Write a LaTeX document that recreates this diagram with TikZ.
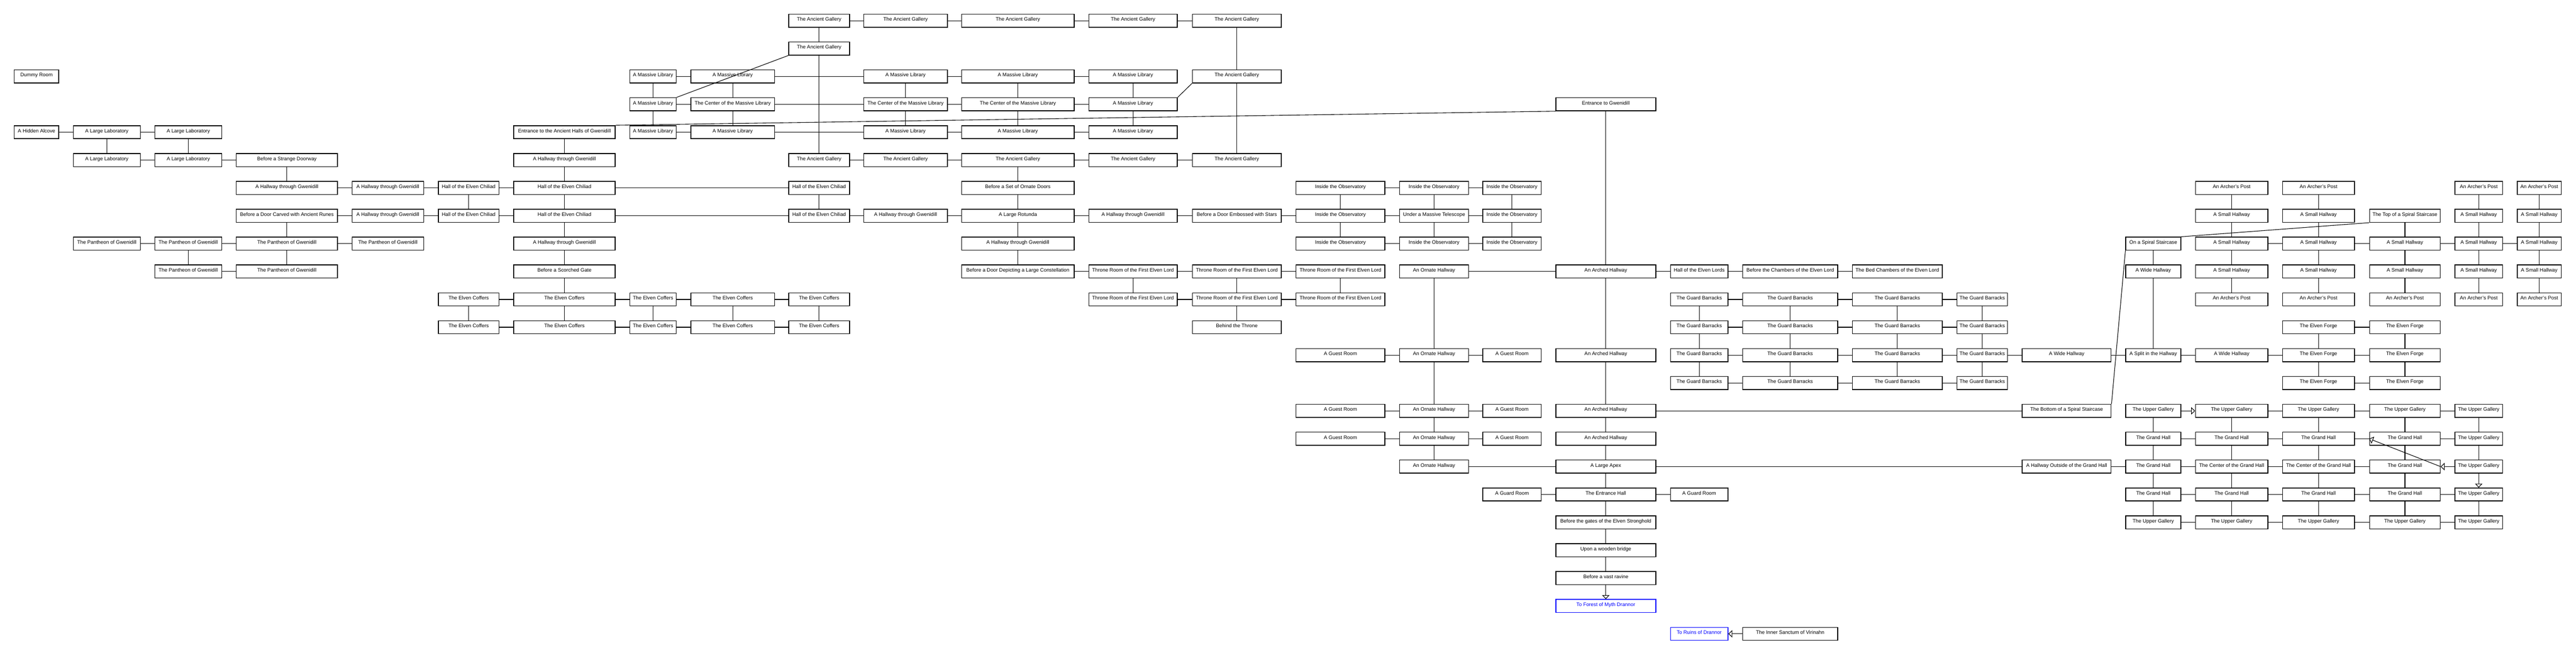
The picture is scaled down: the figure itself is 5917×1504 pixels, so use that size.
\documentclass[tikz,border=0pt]{standalone}
\usepackage{fontspec}
\setmainfont{Liberation Sans}
\usetikzlibrary{arrows.meta}
\def\defcol#1#2#3{\expandafter\def\csname colL#1\endcsname{#2}\expandafter\def\csname colR#1\endcsname{#3}}
\defcol{A}{32}{136}
\defcol{B}{168}{323}
\defcol{C}{355}{510}
\defcol{D}{542}{776}
\defcol{E}{808}{974}
\defcol{F}{1006}{1147}
\defcol{G}{1179}{1414}
\defcol{H}{1446}{1554}
\defcol{I}{1586}{1780}
\defcol{J}{1811}{1952}
\defcol{K}{1983}{2177}
\defcol{L}{2208}{2468}
\defcol{M}{2500}{2705}
\defcol{N}{2738}{2944}
\defcol{O}{2976}{3182}
\defcol{P}{3214}{3374}
\defcol{Q}{3405}{3541}
\defcol{R}{3573}{3804}
\defcol{S}{3836}{3970}
\defcol{T}{4002}{4222}
\defcol{U}{4254}{4462}
\defcol{V}{4494}{4612}
\defcol{W}{4644}{4850}
\defcol{X}{4882}{5010}
\defcol{Y}{5042}{5210}
\defcol{Z}{5242}{5409}
\defcol{AA}{5442}{5606}
\defcol{AB}{5638}{5749}
\defcol{AC}{5781}{5884}
\newcommand\Room[4][]{%
  \pgfmathsetmacro\RoomX{(\csname colL#2\endcsname+\csname colR#2\endcsname)/2}%
  \pgfmathsetmacro\RoomW{(\csname colR#2\endcsname-\csname colL#2\endcsname-1.7)*0.5}%
  \pgfmathsetmacro\RoomY{47.5+64*#3}%
  \node[roombox,minimum width=\RoomW pt,#1] (#2#3) at (\RoomX,\RoomY) {#4};}
\tikzset{
  roombox/.style={draw, line width=0.85pt, minimum height=15pt, inner xsep=0pt, inner ysep=0pt,
    text height=5pt, text depth=4.2pt, font=\fontsize{5.8pt}{7pt}\selectfont},
  portal/.style={draw=blue, text=blue},
  ln/.style={line width=0.65pt},
  arr/.style={line width=0.65pt, -{Triangle[length=4.5pt,width=8.5pt,fill=white]}}
}
\begin{document}
\begin{tikzpicture}[x=0.5pt,y=-0.5pt]
\fill[white] (0,0) rectangle (5917,1504);
\useasboundingbox (0,0) rectangle (5917,1504);
% left block
\Room{A}{2}{Dummy Room}
\Room{A}{4}{A Hidden Alcove}
\Room{B}{4}{A Large Laboratory}
\Room{C}{4}{A Large Laboratory}
\Room{B}{5}{A Large Laboratory}
\Room{C}{5}{A Large Laboratory}
\Room{D}{5}{Before a Strange Doorway}
\Room{D}{6}{A Hallway through Gwenidill}
\Room{E}{6}{A Hallway through Gwenidill}
\Room{D}{7}{Before a Door Carved with Ancient Runes}
\Room{E}{7}{A Hallway through Gwenidill}
\Room{B}{8}{The Pantheon of Gwenidill}
\Room{C}{8}{The Pantheon of Gwenidill}
\Room{D}{8}{The Pantheon of Gwenidill}
\Room{E}{8}{The Pantheon of Gwenidill}
\Room{C}{9}{The Pantheon of Gwenidill}
\Room{D}{9}{The Pantheon of Gwenidill}
\Room{F}{6}{Hall of the Elven Chiliad}
\Room{F}{7}{Hall of the Elven Chiliad}
\Room{G}{4}{Entrance to the Ancient Halls of Gwenidill}
\Room{G}{5}{A Hallway through Gwenidill}
\Room{G}{6}{Hall of the Elven Chiliad}
\Room{G}{7}{Hall of the Elven Chiliad}
\Room{G}{8}{A Hallway through Gwenidill}
\Room{G}{9}{Before a Scorched Gate}
\Room{F}{10}{The Elven Coffers}
\Room{F}{11}{The Elven Coffers}
\Room{G}{10}{The Elven Coffers}
\Room{G}{11}{The Elven Coffers}
\Room{H}{10}{The Elven Coffers}
\Room{H}{11}{The Elven Coffers}
\Room{I}{10}{The Elven Coffers}
\Room{I}{11}{The Elven Coffers}
\Room{J}{10}{The Elven Coffers}
\Room{J}{11}{The Elven Coffers}
% library / gallery
\Room{H}{2}{A Massive Library}
\Room{H}{3}{A Massive Library}
\Room{H}{4}{A Massive Library}
\Room{I}{2}{A Massive Library}
\Room{I}{3}{The Center of the Massive Library}
\Room{I}{4}{A Massive Library}
\Room{J}{0}{The Ancient Gallery}
\Room{J}{1}{The Ancient Gallery}
\Room{J}{5}{The Ancient Gallery}
\Room{J}{6}{Hall of the Elven Chiliad}
\Room{J}{7}{Hall of the Elven Chiliad}
\Room{K}{0}{The Ancient Gallery}
\Room{L}{0}{The Ancient Gallery}
\Room{M}{0}{The Ancient Gallery}
\Room{N}{0}{The Ancient Gallery}
\Room{K}{2}{A Massive Library}
\Room{L}{2}{A Massive Library}
\Room{M}{2}{A Massive Library}
\Room{N}{2}{The Ancient Gallery}
\Room{K}{3}{The Center of the Massive Library}
\Room{L}{3}{The Center of the Massive Library}
\Room{M}{3}{A Massive Library}
\Room{K}{4}{A Massive Library}
\Room{L}{4}{A Massive Library}
\Room{M}{4}{A Massive Library}
\Room{K}{5}{The Ancient Gallery}
\Room{L}{5}{The Ancient Gallery}
\Room{M}{5}{The Ancient Gallery}
\Room{N}{5}{The Ancient Gallery}
\Room{L}{6}{Before a Set of Ornate Doors}
\Room{K}{7}{A Hallway through Gwenidill}
\Room{L}{7}{A Large Rotunda}
\Room{M}{7}{A Hallway through Gwenidill}
\Room{N}{7}{Before a Door Embossed with Stars}
\Room{L}{8}{A Hallway through Gwenidill}
\Room{L}{9}{Before a Door Depicting a Large Constellation}
\Room{M}{9}{Throne Room of the First Elven Lord}
\Room{N}{9}{Throne Room of the First Elven Lord}
\Room{M}{10}{Throne Room of the First Elven Lord}
\Room{N}{10}{Throne Room of the First Elven Lord}
\Room{N}{11}{Behind the Throne}
% observatory
\Room{O}{6}{Inside the Observatory}
\Room{P}{6}{Inside the Observatory}
\Room{Q}{6}{Inside the Observatory}
\Room{O}{7}{Inside the Observatory}
\Room{P}{7}{Under a Massive Telescope}
\Room{Q}{7}{Inside the Observatory}
\Room{O}{8}{Inside the Observatory}
\Room{P}{8}{Inside the Observatory}
\Room{Q}{8}{Inside the Observatory}
\Room{O}{9}{Throne Room of the First Elven Lord}
\Room{O}{10}{Throne Room of the First Elven Lord}
\Room{P}{9}{An Ornate Hallway}
\Room{R}{3}{Entrance to Gwenidill}
\Room{R}{9}{An Arched Hallway}
\Room{S}{9}{Hall of the Elven Lords}
\Room{T}{9}{Before the Chambers of the Elven Lord}
\Room{U}{9}{The Bed Chambers of the Elven Lord}
\foreach \c in {S,T,U,V}{\foreach \r in {10,11,12,13}{\Room{\c}{\r}{The Guard Barracks}}}
\foreach \r in {12,14,15}{
  \Room{O}{\r}{A Guest Room}
  \Room{P}{\r}{An Ornate Hallway}
  \Room{Q}{\r}{A Guest Room}
  \Room{R}{\r}{An Arched Hallway}}
\Room{P}{16}{An Ornate Hallway}
\Room{R}{16}{A Large Apex}
\Room{Q}{17}{A Guard Room}
\Room{R}{17}{The Entrance Hall}
\Room{S}{17}{A Guard Room}
\Room{R}{18}{Before the gates of the Elven Stronghold}
\Room{R}{19}{Upon a wooden bridge}
\Room{R}{20}{Before a vast ravine}
\Room[portal]{R}{21}{To Forest of Myth Drannor}
\Room[portal]{S}{22}{To Ruins of Drannor}
\Room{T}{22}{The Inner Sanctum of Virinahn}
% right block
\Room{W}{12}{A Wide Hallway}
\Room{W}{14}{The Bottom of a Spiral Staircase}
\Room{W}{16}{A Hallway Outside of the Grand Hall}
\Room{X}{8}{On a Spiral Staircase}
\Room{X}{9}{A Wide Hallway}
\Room{X}{12}{A Split in the Hallway}
\Room{Y}{12}{A Wide Hallway}
\foreach \c in {Z,AA}{\foreach \r in {11,12,13}{\Room{\c}{\r}{The Elven Forge}}}
\foreach \c in {Y,Z,AB,AC}{\Room{\c}{6}{An Archer's Post}}
\foreach \c in {Y,Z,AB,AC}{\Room{\c}{7}{A Small Hallway}}
\Room{AA}{7}{The Top of a Spiral Staircase}
\foreach \c in {Y,Z,AA,AB,AC}{\Room{\c}{8}{A Small Hallway}\Room{\c}{9}{A Small Hallway}\Room{\c}{10}{An Archer's Post}}
\foreach \c in {X,Y,Z,AA,AB}{\Room{\c}{14}{The Upper Gallery}\Room{\c}{18}{The Upper Gallery}}
\foreach \c in {X,Y,Z,AA}{\Room{\c}{15}{The Grand Hall}\Room{\c}{17}{The Grand Hall}}
\Room{AB}{15}{The Upper Gallery}
\Room{AB}{17}{The Upper Gallery}
\Room{X}{16}{The Grand Hall}
\Room{Y}{16}{The Center of the Grand Hall}
\Room{Z}{16}{The Center of the Grand Hall}
\Room{AA}{16}{The Grand Hall}
\Room{AB}{16}{The Upper Gallery}
% connectors
\foreach \a/\b in {A4/B4, B4/C4, B5/C5, C5/D5, D6/E6, E6/F6, F6/G6, G6/J6, D7/E7, E7/F7, F7/G7, G7/J7, J7/K7, K7/L7, L7/M7, M7/N7, N7/O7, O7/P7, P7/Q7, B8/C8, C8/D8, D8/E8, C9/D9, F10/G10, G10/H10, H10/I10, I10/J10, F11/G11, G11/H11, H11/I11, I11/J11, H2/I2, I2/K2, K2/L2, L2/M2, H3/I3, I3/K3, K3/L3, L3/M3, H4/I4, I4/K4, K4/L4, L4/M4, J0/K0, K0/L0, L0/M0, M0/N0, J5/K5, K5/L5, L5/M5, M5/N5, O6/P6, P6/Q6, O8/P8, P8/Q8, L9/M9, M9/N9, N9/O9, M10/N10, N10/O10, P9/R9, R9/S9, S9/T9, T9/U9, S10/T10, T10/U10, U10/V10, S11/T11, T11/U11, U11/V11, S12/T12, T12/U12, U12/V12, V12/W12, W12/X12, X12/Y12, Y12/Z12, Z12/AA12, S13/T13, T13/U13, U13/V13, O12/P12, P12/Q12, O14/P14, P14/Q14, R14/W14, O15/P15, P15/Q15, P16/R16, R16/W16, W16/X16, Q17/R17, R17/S17, Z11/AA11, Z13/AA13, Y8/Z8, Z8/AA8, AA8/AB8, AB8/AC8, Y14/Z14, Z14/AA14, AA14/AB14, X15/Y15, Y15/Z15, Z15/AA15, AA15/AB15, X16/Y16, Y16/Z16, Z16/AA16, X17/Y17, Y17/Z17, Z17/AA17, AA17/AB17, X18/Y18, Y18/Z18, Z18/AA18, AA18/AB18}
  {\draw[ln] (\a) -- (\b);}
\foreach \a/\b in {B4/B5, C4/C5, D5/D6, D7/D8, C8/C9, D8/D9, F6/F7, G4/G5, G5/G6, G6/G7, G7/G8, G8/G9, G9/G10, G10/G11, F10/F11, H10/H11, I10/I11, J10/J11, H2/H3, H3/H4, I2/I3, I3/I4, K2/K3, K3/K4, L2/L3, L3/L4, M2/M3, M3/M4, J0/J1, J1/J5, N0/N2, N2/N5, J6/J7, L5/L6, L6/L7, L7/L8, L8/L9, M9/M10, N9/N10, N10/N11, O6/O7, O7/O8, P6/P7, P7/P8, Q6/Q7, Q7/Q8, O9/O10, P9/P12, P12/P14, P14/P15, P15/P16, R3/R9, R9/R12, R12/R14, R14/R15, R15/R16, R16/R17, R17/R18, R18/R19, R19/R20, S10/S11, S11/S12, S12/S13, T10/T11, T11/T12, T12/T13, U10/U11, U11/U12, U12/U13, V10/V11, V11/V12, V12/V13, X8/X9, X9/X12, Y6/Y7, Y7/Y8, Y8/Y9, Y9/Y10, Z6/Z7, Z7/Z8, Z8/Z9, Z9/Z10, AA7/AA8, AA8/AA9, AA9/AA10, AB6/AB7, AB7/AB8, AB8/AB9, AB9/AB10, AC6/AC7, AC7/AC8, AC8/AC9, AC9/AC10, Z11/Z12, Z12/Z13, AA11/AA12, AA12/AA13, X14/X15, X15/X16, X16/X17, X17/X18, Y14/Y15, Y15/Y16, Y16/Y17, Y17/Y18, Z14/Z15, Z15/Z16, Z16/Z17, Z17/Z18, AA14/AA15, AA15/AA16, AA16/AA17, AA17/AA18, AB14/AB15, AB15/AB16, AB17/AB18}
  {\draw[ln] (\a) -- (\b);}
% diagonals
\draw[ln] (J1.south west) -- (H3.north east);
\draw[ln] (N2.south west) -- (M3.north east);
\draw[ln] (G4.north east) -- (R3.south west);
\draw[ln] (AA7.south west) -- (X8.north east);
\draw[ln] (W14.north east) -- (X8.south west);
% arrows
\draw[arr] (R20) -- (R21);
\draw[arr] (T22) -- (S22);
\draw[arr] (X14) -- (Y14);
\draw[arr] (AB16) -- (AB17);
\draw[arr] (AB16) -- (AA16);
\draw[arr] (AA16.east) -- (AA15.west);
\end{tikzpicture}
\end{document}
